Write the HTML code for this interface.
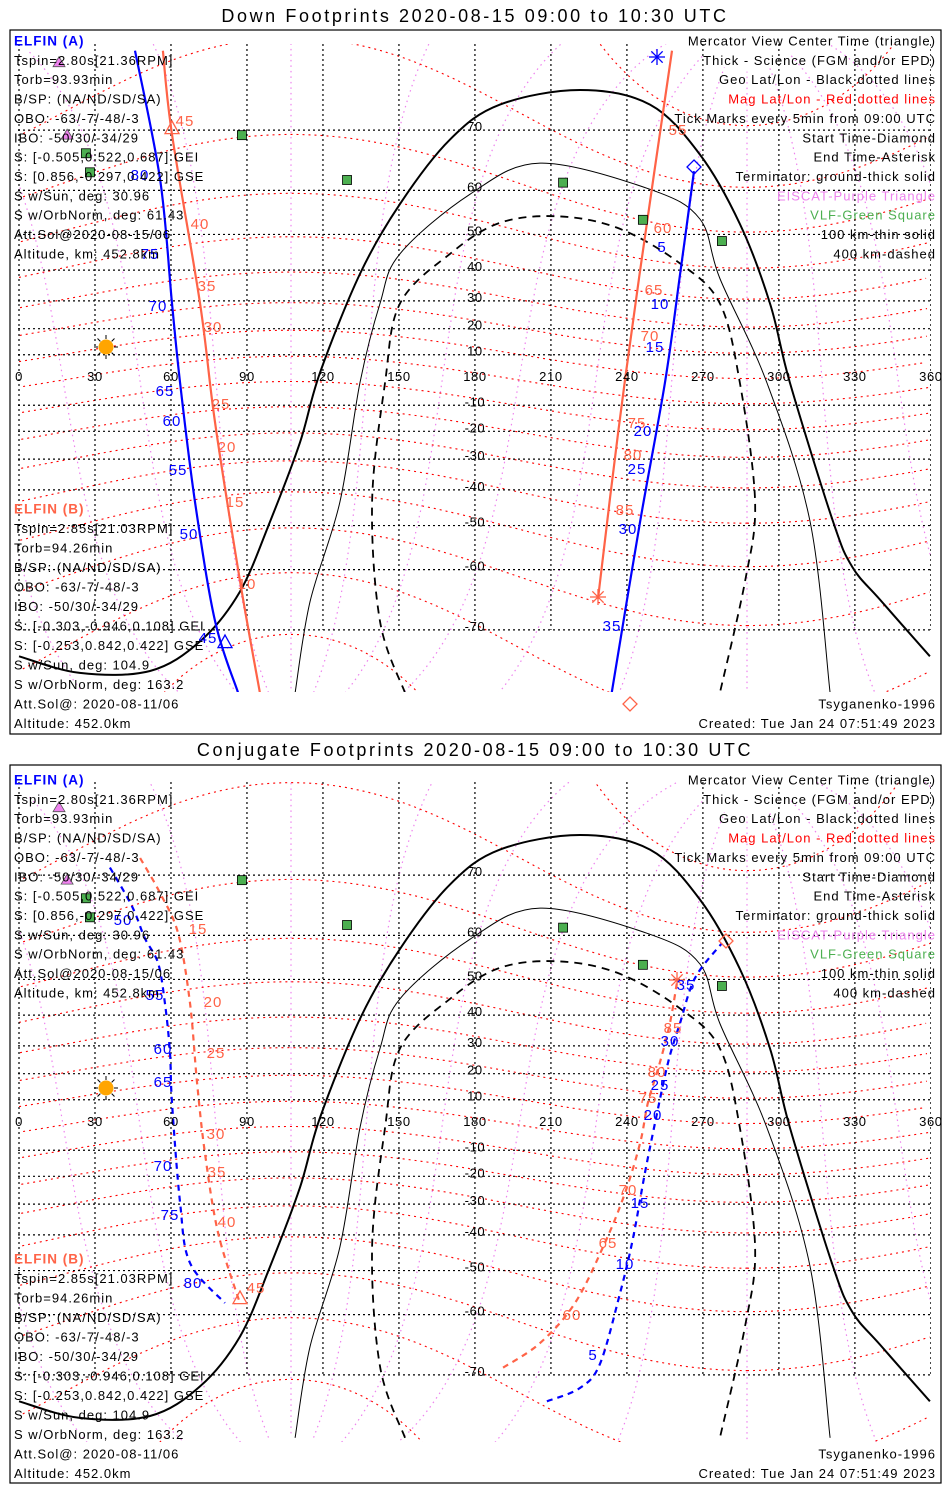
<!DOCTYPE html>
<html><head><meta charset="utf-8"><title>ELFIN Footprints</title>
<style>
html,body{margin:0;padding:0;background:#fff;width:950px;height:1500px;overflow:hidden;}
svg{display:block;}
text{font-family:"Liberation Sans",sans-serif;}
</style></head>
<body>
<svg id="chart" width="950" height="1500" viewBox="0 0 950 1500" xmlns="http://www.w3.org/2000/svg">
<rect x="0" y="0" width="950" height="1500" fill="#fff"/>
</svg>
<script>
// ---------- data ----------
const lonTicks = [0,30,60,90,120,150,180,210,240,270,300,330,360];
const latTicks = [-70,-60,-50,-40,-30,-20,-10,10,20,30,40,50,60,70];
const magLats = [-80,-70,-60,-50,-40,-30,-20,-10,0,10,20,30,40,50,60,70,80];
const magLons = [0,30,60,90,120,150,180,210,240,270,300,330];
const magPole = [80.6, 287.4];
const termThickLon = [0,24,51.7,71.5,87.2,99.1,110.9,118.8,134.6,150.4,170.2,189.9,221.5,249.1,268.8,284.6,296.5,304.4,321.4,329,340,359.6];
const termThickLat = [-73.3,-75.1,-74.9,-71.5,-64.1,-49,-24.2,2.8,38.8,57.2,68.7,73.2,74.8,73.2,66.4,52.6,29.1,-1.2,-49,-59.5,-65.5,-73.3];
const termThinLon = [109,114.9,126.7,134.6,142.5,150.4,178,205.7,249.1,268.8,276.7,295.3,312.3,320.2];
const termThinLat = [-77,-65.8,-43.6,-1.2,29.1,44.8,59.2,65,60.2,53.8,37.4,-1.2,-49,-77];
const termDashLon = [152.4,142.5,139.4,144.5,150.4,170.2,189.9,213.6,237.3,261,276.7,284.6,290.6,286.6,276.7];
const termDashLat = [-77,-68.8,-43.6,-1.2,29.1,44.8,52.9,54.4,51.4,42,29.1,-1.2,-43.6,-62.3,-77];
const vlfLon = [88,26.4,28,129.5,214.8,246.3,277.5];
const vlfLat = [69.3,66.6,63.4,62,61.5,53.6,48.3];
const eiscatLon = [15.8,19];
const eiscatLat = [77.4,69.3];
// Panel 1 (down footprints)
const d_aWestLon = [45.8,55.7,60.4,63.6,69.5,77.4,86.5];
const d_aWestLat = [78.4,62.1,29.1,-1.2,-43.6,-68.8,-77];
const d_bWestLon = [56.8,60.4,71.5,77.4,87.3,95.1];
const d_bWestLat = [78.4,69.4,29,-16.8,-62.3,-77];
const d_aEastLon = [266.5,261,255,245.2,234];
const d_aEastLat = [63.6,38.8,-1.2,-49,-77];
const d_bEastLon = [257.8,245,236.5,228.6];
const d_bEastLat = [78.4,38.8,-20.6,-65.3];
// Panel 2 (conjugate footprints)
const c_aWestLon = [35.9,41.8,45.8,49.7,54.9,57.6,59.6,60.4,63.6,67.5,81.3];
const c_aWestLat = [71,67.4,64.2,59.4,54,43.6,27.6,8.8,-29.6,-48,-57.6];
const c_bWestLon = [47.8,55.7,62.8,67.5,70.3,73.4,78.6,87.2];
const c_bWestLat = [72.2,67.4,60.4,43.6,16.4,-11,-39.4,-57.6];
const c_aEastLon = [208.4,221.5,229.4,237.3,242.4,247.1,251.1,256.2,261,266.9,277.5];
const c_aEastLat = [-73.3,-71.7,-68.4,-55.4,-41,-18.8,0.8,24,37.6,50.4,58.4];
const c_bEastLon = [191.1,205.7,219.5,231.3,239.2,245.2,248.3,253,257,259.7];
const c_bEastLat = [-69,-65.2,-57.6,-42.4,-26.2,-7.2,8.8,24,37.6,49];

const NS='http://www.w3.org/2000/svg';
const svg=document.getElementById('chart');
function mk(tag,attrs,parent){const e=document.createElementNS(NS,tag);for(const k in attrs)e.setAttribute(k,attrs[k]);(parent||svg).appendChild(e);return e;}
function xs(lon){return 19+lon*2.533;}
function ysF(y0){return function(lat){const r=lat*Math.PI/180;return y0-144*Math.log(Math.tan(Math.PI/4+r/2));};}
function geoFromMag(mlat,mlon){
  const th=(90-magPole[0])*Math.PI/180, lp=magPole[1]*Math.PI/180;
  const a=mlat*Math.PI/180,b=mlon*Math.PI/180;
  const x=Math.cos(a)*Math.cos(b),y=Math.cos(a)*Math.sin(b),z=Math.sin(a);
  const x1=x*Math.cos(th)+z*Math.sin(th), z1=-x*Math.sin(th)+z*Math.cos(th);
  const X=x1*Math.cos(lp)-y*Math.sin(lp), Y=x1*Math.sin(lp)+y*Math.cos(lp);
  let lon=Math.atan2(Y,X)*180/Math.PI; if(lon<0)lon+=360;
  return [lon,Math.asin(Math.max(-1,Math.min(1,z1)))*180/Math.PI];
}
function pathFrom(lons,lats,ys){
  const P=lons.map((l,i)=>[xs(l),ys(lats[i])]);
  let d='M'+P[0][0].toFixed(1)+','+P[0][1].toFixed(1);
  for(let i=0;i<P.length-1;i++){
    const p0=P[i-1]||P[i],p1=P[i],p2=P[i+1],p3=P[i+2]||P[i+1];
    const c1=[p1[0]+(p2[0]-p0[0])/6,p1[1]+(p2[1]-p0[1])/6];
    const c2=[p2[0]-(p3[0]-p1[0])/6,p2[1]-(p3[1]-p1[1])/6];
    d+='C'+c1[0].toFixed(1)+','+c1[1].toFixed(1)+' '+c2[0].toFixed(1)+','+c2[1].toFixed(1)+' '+p2[0].toFixed(1)+','+p2[1].toFixed(1);
  }
  return d;
}
function geoPath(pts,ys){let d='',prev=null;for(const p of pts){if(Math.abs(p[1])>88){prev=null;continue;}const jump=prev&&Math.abs(p[0]-prev[0])>180;d+=((!prev||jump)?'M':'L')+xs(p[0]).toFixed(1)+','+ys(p[1]).toFixed(1);prev=p;}return d;}

const leftA=["Tspin=2.80s[21.36RPM]","Torb=93.93min","B/SP: (NA/ND/SD/SA)","OBO: -63/-7/-48/-3","IBO: -50/30/-34/29","S: [-0.505,0.522,0.687] GEI","S: [0.856,-0.297,0.422] GSE","S w/Sun, deg: 30.96","S w/OrbNorm, deg: 61.43","Att.Sol@2020-08-15/06","Altitude, km: 452.8km"];
const leftB=["Tspin=2.85s[21.03RPM]","Torb=94.26min","B/SP: (NA/ND/SD/SA)","OBO: -63/-7/-48/-3","IBO: -50/30/-34/29","S: [-0.303,-0.946,0.108] GEI","S: [-0.253,0.842,0.422] GSE","S w/Sun, deg: 104.9","S w/OrbNorm, deg: 163.2","Att.Sol@: 2020-08-11/06","Altitude: 452.0km"];
const legend=[["Mercator View Center Time (triangle)","#000"],["Thick - Science (FGM and/or EPD)","#000"],["Geo Lat/Lon - Black dotted lines","#000"],["Mag Lat/Lon - Red dotted lines","#ff0000"],["Tick Marks every 5min from 09:00 UTC","#000"],["Start Time-Diamond","#000"],["End Time-Asterisk","#000"],["Terminator: ground-thick solid","#000"],["EISCAT-Purple Triangle","#ee82ee"],["VLF-Green Square","#4caf50"],["100 km-thin solid","#000"],["400 km-dashed","#000"]];

const BLUE='#0000ff', RED='#ff6347';
function star(g,x,y,c){for(let k=0;k<4;k++){const a=k*Math.PI/4;mk('line',{x1:x-8*Math.cos(a),y1:y-8*Math.sin(a),x2:x+8*Math.cos(a),y2:y+8*Math.sin(a),stroke:c,'stroke-width':1.3},g);}}
function diamond(g,x,y,c){mk('path',{d:`M${x},${y-7}L${x+7},${y}L${x},${y+7}L${x-7},${y}Z`,fill:'none',stroke:c,'stroke-width':1.3},g);}
function tri(g,x,y,c,fill,s){s=s||8;mk('path',{d:`M${x},${y-s}L${x+s},${y+s*0.8}L${x-s},${y+s*0.8}Z`,fill:fill,stroke:c,'stroke-width':1.3},g);}

function panel(p){
  const ys=ysF(p.y0);
  const g=mk('g',{});
  
  
  const t=mk('text',{x:475,y:p.titleY,'text-anchor':'middle','font-size':18,'letter-spacing':'2.6px'},g);
  t.textContent=p.title;
  
  
  const box=mk('rect',{x:10,y:p.boxTop,width:931,height:p.boxH,fill:'none',stroke:'#000','stroke-width':1.2},g);
  
  
  const clipId='clip'+p.id;
  const cp=mk('clipPath',{id:clipId},g);mk('rect',{x:18,y:p.mapTop,width:913,height:p.mapBot-p.mapTop},cp);
  const map=mk('g',{'clip-path':`url(#${clipId})`},g);
  
  
  for(const ml of magLons){const pts=[];for(let a=-86;a<=86;a+=1)pts.push(geoFromMag(a,ml));
    const e=mk('path',{d:geoPath(pts,ys),fill:'none',stroke:'#ee82ee','stroke-width':1.2,'stroke-dasharray':'1.5,4'},map);
    
    }
  for(const ml of magLats){const pts=[];for(let b=0;b<=360;b+=2)pts.push(geoFromMag(ml,b));
    const e=mk('path',{d:geoPath(pts,ys),fill:'none',stroke:'#ff0000','stroke-width':1.1,'stroke-dasharray':'2,4'},map);
    
    }
  for(const lo of lonTicks){const e=mk('line',{x1:xs(lo),y1:p.mapTop,x2:xs(lo),y2:ys(-70),stroke:'#000','stroke-width':1.2,'stroke-dasharray':'2,3'},map);
    
    }
  for(const la of latTicks){const e=mk('line',{x1:18,y1:ys(la),x2:930,y2:ys(la),stroke:'#000','stroke-width':1.2,'stroke-dasharray':'2,3'},map);
    
    }
  const tk=mk('path',{d:pathFrom(termThickLon,termThickLat,ys),fill:'none',stroke:'#000','stroke-width':2},map);
  
  
  const tn=mk('path',{d:pathFrom(termThinLon,termThinLat,ys),fill:'none',stroke:'#000','stroke-width':1},map);
  
  
  const td=mk('path',{d:pathFrom(termDashLon,termDashLat,ys),fill:'none',stroke:'#000','stroke-width':1.8,'stroke-dasharray':'8,6'},map);
  
  
  for(const tr of p.tracks){const e=mk('path',{d:pathFrom(tr.lon,tr.lat,ys),fill:'none',stroke:tr.c,'stroke-width':2.2,'stroke-dasharray':p.dash?'6,5':'none'},map);
    
    }
  for(const lo of lonTicks){const e=mk('text',{x:xs(lo),y:ys(0)+1,'text-anchor':'middle','font-size':13,'letter-spacing':'0.6px'},g);e.textContent=String(lo);
    
    }
  for(const la of latTicks){const e=mk('text',{x:xs(180),y:ys(la)+1,'text-anchor':'middle','font-size':13,'letter-spacing':'0.6px'},g);e.textContent=String(la);
    
    }
  for(let i=0;i<vlfLon.length;i++){const e=mk('rect',{x:xs(vlfLon[i])-4.5,y:ys(vlfLat[i])-4.5,width:9,height:9,fill:'#4caf50',stroke:'#000','stroke-width':0.8},g);
    
    }
  for(let i=0;i<eiscatLon.length;i++){const e=mk('path',{d:`M${xs(eiscatLon[i])},${ys(eiscatLat[i])-6}l6,10h-12z`,fill:'#ee82ee',stroke:'#555','stroke-width':0.8},g);
    
    }
  const sg=mk('g',{},g);
  
  
  for(let k=0;k<8;k++){const a=k*Math.PI/4;mk('line',{x1:p.sun[0]+8*Math.cos(a),y1:p.sun[1]+8*Math.sin(a),x2:p.sun[0]+12*Math.cos(a),y2:p.sun[1]+12*Math.sin(a),stroke:'#000','stroke-width':1},sg);}
  mk('circle',{cx:p.sun[0],cy:p.sun[1],r:7.5,fill:'#ffa500'},sg);
  for(const m of p.markers){const mg=mk('g',{},g);
    
    
    if(m.t==='star')star(mg,m.x,m.y,m.c);else if(m.t==='dia')diamond(mg,m.x,m.y,m.c);else tri(mg,m.x,m.y,m.c,'none',7);}
  for(const l of p.labels){const e=mk('text',{x:l[0],y:l[1]+5,'text-anchor':'middle','font-size':15,'letter-spacing':'1px',fill:l[3]},g);e.textContent=l[2];
    
    }
  function line(x,y,s,c,anchor,name,size){const e=mk('text',{x:x,y:y+4.5,'font-size':size||13,'letter-spacing':'1px',fill:c,'text-anchor':anchor||'start'},g);e.textContent=s;
    
    return e;}
  line(14,p.tA,'ELFIN (A)',BLUE,'start','elfin-a-header',13.5).setAttribute('font-weight','bold');
  leftA.forEach((s,i)=>line(14,p.tA+19.36*(i+1),s,'#000','start','elfin-a-info'));
  line(14,p.tB,'ELFIN (B)',RED,'start','elfin-b-header',13.5).setAttribute('font-weight','bold');
  leftB.forEach((s,i)=>line(14,p.tB+19.5*(i+1),s,'#000','start','elfin-b-info'));
  legend.forEach((s,i)=>line(936,p.tA+19.36*i,s[0],s[1],'end','legend-entry'));
  line(936,p.tB+19.5*10,'Tsyganenko-1996','#000','end','model-label');
  line(936,p.tB+19.5*11,'Created: Tue Jan 24 07:51:49 2023','#000','end','created-label');
}

panel({id:1,name:'down-footprints-panel',title:'Down Footprints 2020-08-15 09:00 to 10:30 UTC',titleY:22,boxTop:30,boxH:704,y0:380,mapTop:44,mapBot:692,tA:41,tB:509,sun:[106,347],dash:false,
 tracks:[{lon:d_aWestLon,lat:d_aWestLat,c:BLUE,name:'elfin-a-track-west'},{lon:d_bWestLon,lat:d_bWestLat,c:RED,name:'elfin-b-track-west'},{lon:d_aEastLon,lat:d_aEastLat,c:BLUE,name:'elfin-a-track-east'},{lon:d_bEastLon,lat:d_bEastLat,c:RED,name:'elfin-b-track-east'}],
 markers:[{t:'star',x:657,y:57,c:BLUE,name:'end-asterisk-a'},{t:'dia',x:694,y:167,c:BLUE,name:'start-diamond-a'},{t:'star',x:598,y:597,c:RED,name:'end-asterisk-b'},{t:'dia',x:630,y:704,c:RED,name:'start-diamond-b'},{t:'tri',x:172,y:128,c:RED,name:'center-triangle-b'},{t:'tri',x:225,y:642,c:BLUE,name:'center-triangle-a'}],
 labels:[[140,175,'80',BLUE],[150,254,'75',BLUE],[158,306,'70',BLUE],[165,391,'65',BLUE],[172,421,'60',BLUE],[178,470,'55',BLUE],[189,534,'50',BLUE],[208,638,'45',BLUE],
 [185,121,'45',RED],[200,224,'40',RED],[207,286,'35',RED],[213,327,'30',RED],[221,404,'25',RED],[227,447,'20',RED],[235,502,'15',RED],[247,584,'10',RED],
 [678,130,'55',RED],[663,228,'60',RED],[654,290,'65',RED],[650,336,'70',RED],[637,423,'75',RED],[633,455,'80',RED],[625,510,'85',RED],
 [662,247,'5',BLUE],[660,304,'10',BLUE],[655,347,'15',BLUE],[643,431,'20',BLUE],[637,469,'25',BLUE],[628,529,'30',BLUE],[612,626,'35',BLUE]]});

panel({id:2,name:'conjugate-footprints-panel',title:'Conjugate Footprints 2020-08-15 09:00 to 10:30 UTC',titleY:756,boxTop:765,boxH:718,y0:1125,mapTop:782,mapBot:1442,tA:780,tB:1259,sun:[106,1088],dash:true,
 tracks:[{lon:c_aWestLon,lat:c_aWestLat,c:BLUE,name:'elfin-a-track-west'},{lon:c_bWestLon,lat:c_bWestLat,c:RED,name:'elfin-b-track-west'},{lon:c_aEastLon,lat:c_aEastLat,c:BLUE,name:'elfin-a-track-east'},{lon:c_bEastLon,lat:c_bEastLat,c:RED,name:'elfin-b-track-east'}],
 markers:[{t:'star',x:677,y:980,c:RED,name:'end-asterisk-b'},{t:'dia',x:726,y:941,c:RED,name:'start-diamond-b'},{t:'tri',x:240,y:1298,c:RED,name:'center-triangle-b'}],
 labels:[[123,920,'50',BLUE],[155,995,'55',BLUE],[163,1049,'60',BLUE],[163,1082,'65',BLUE],[163,1166,'70',BLUE],[170,1215,'75',BLUE],[193,1283,'80',BLUE],
 [198,929,'15',RED],[213,1002,'20',RED],[216,1053,'25',RED],[216,1134,'30',RED],[217,1172,'35',RED],[227,1222,'40',RED],[256,1288,'45',RED],
 [673,1028,'85',RED],[657,1072,'80',RED],[648,1098,'75',RED],[628,1190,'70',RED],[608,1243,'65',RED],[572,1315,'60',RED],
 [686,985,'35',BLUE],[670,1041,'30',BLUE],[660,1085,'25',BLUE],[653,1115,'20',BLUE],[640,1203,'15',BLUE],[625,1264,'10',BLUE],[593,1355,'5',BLUE]]});
</script>
</body></html>
